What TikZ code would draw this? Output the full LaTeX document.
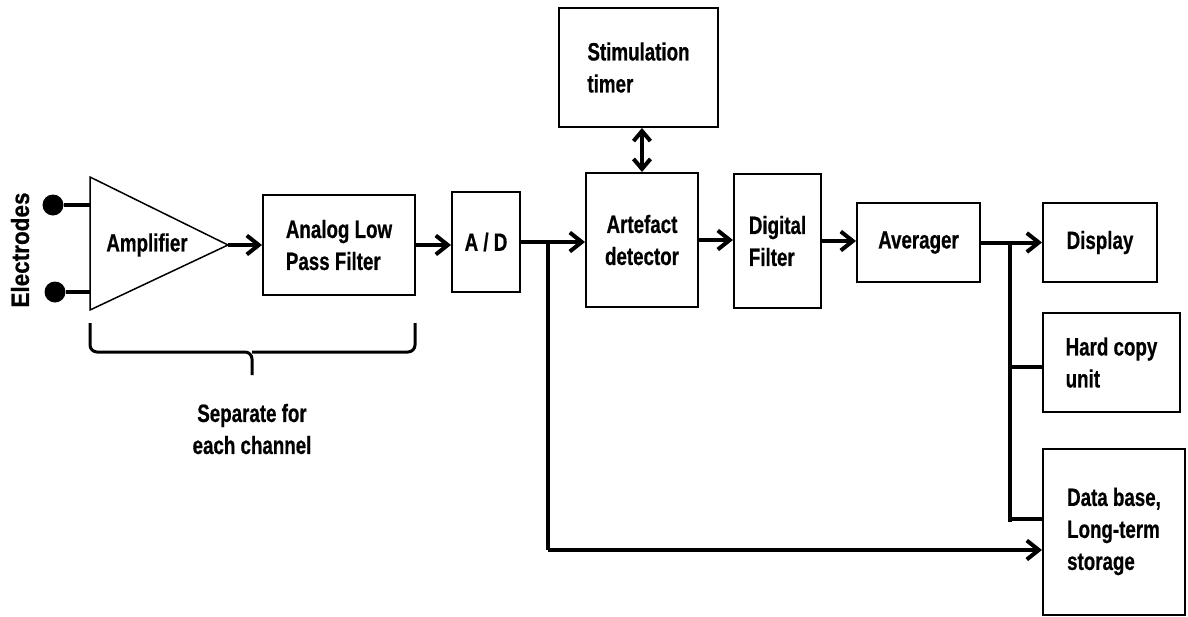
\documentclass[tikz,border=0pt]{standalone}
\usepackage{fontspec}
\setmainfont[FakeStretch=0.75, FakeBold=0.6]{Liberation Sans}
\newfontfamily\widesans[FakeStretch=0.9, FakeBold=0.6]{Liberation Sans}
\usetikzlibrary{arrows.meta}

\begin{document}
\begin{tikzpicture}[x=1pt,y=-1pt,
  txt/.style={font=\fontsize{25}{32}\selectfont\bfseries},
  block/.style={txt, draw, line width=2pt, inner sep=0pt, align=left},
  flow/.style={line width=4pt, -{Straight Barb[length=12pt,width=19pt]}},
  both/.style={line width=4pt, {Straight Barb[length=10pt,width=17pt]}-{Straight Barb[length=10pt,width=17pt]}},
  wire/.style={line width=4pt},
  lbl/.style={txt, align=center, inner sep=0pt},
  electrode/.style={circle, fill, inner sep=0pt, minimum size=21pt}
]
\useasboundingbox (0,0) rectangle (1188,616);

% electrodes and amplifier
\node[font=\widesans\fontsize{25}{28}\selectfont\bfseries, rotate=90, inner sep=0pt] (elab) at (20,250) {Electrodes};
\node[electrode] (e1) at (53,205) {};
\node[electrode] (e2) at (55,292) {};
\coordinate (amp-in1) at (90,205);
\coordinate (amp-in2) at (90,292);
\coordinate (amp-out) at (228,245);
\draw[line width=1.5pt, line join=miter] (90,177) -- (amp-out) -- (90,310) -- cycle;
\node[lbl] (amp) at (147,245) {Amplifier};
\draw[wire] (e1) -- (amp-in1);
\draw[wire] (e2) -- (amp-in2);

% processing chain
\node[block, minimum width=152pt, minimum height=100pt] (alpf) at (339,245) {Analog Low\\Pass Filter};
\node[block, minimum width=68pt, minimum height=100pt] (ad) at (486,242) {A / D};
\node[block, minimum width=159pt, minimum height=119pt] (stim) at (638.5,67.5) {Stimulation\\timer};
\node[block, align=center, minimum width=112pt, minimum height=134pt] (art) at (642,240) {Artefact\\detector};
\node[block, minimum width=87pt, minimum height=134pt] (dig) at (777.5,241) {Digital\\Filter};
\node[block, minimum width=123pt, minimum height=79pt] (avg) at (918.5,242.5) {Averager};
\node[block, minimum width=114pt, minimum height=79pt] (disp) at (1100,242.5) {Display};
\node[block, minimum width=137pt, minimum height=99pt] (hard) at (1111.5,362.5) {Hard copy\\unit};
\node[block, minimum width=142pt, minimum height=166pt] (db) at (1114,531.5) {Data base,\\Long-term\\storage};

% bracket under the per-channel stages
\draw[line width=3pt, rounded corners=7pt] (90,323) -- (90,352) -- (252,352) -- (252,375);
\draw[line width=3pt, rounded corners=7pt] (415,323) -- (415,352) -- (252,352);
\node[lbl] (sep) at (252,429) {Separate for\\each channel};

% signal flow
\draw[flow] (amp-out) -- (alpf.west);
\draw[flow] (alpf.east) -- (alpf.east -| ad.west);
\draw[flow] (ad.east) -- (ad.east -| art.west);
\draw[both] (art.north |- stim.south) -- (art.north);
\draw[flow] (art.east) -- (art.east -| dig.west);
\draw[flow] (dig.east) -- (dig.east -| avg.west);
\draw[flow] (avg.east) -- (avg.east -| disp.west);

% raw-data branch to storage
\coordinate (rawsplit) at (548,242);
\coordinate (rawturn) at (548,550);
\draw[wire] (rawsplit) -- (rawturn);
\draw[flow] (rawturn) -- (rawturn -| db.west);

% averaged-data branches
\coordinate (avgsplit) at (1010,243);
\coordinate (avgend) at (1010,522);
\draw[wire] (avgsplit) -- (avgend);
\draw[wire] (1010,367) -- (1010,367 -| hard.west);
\draw[wire] (1010,519) -- (1010,519 -| db.west);
\end{tikzpicture}
\end{document}
